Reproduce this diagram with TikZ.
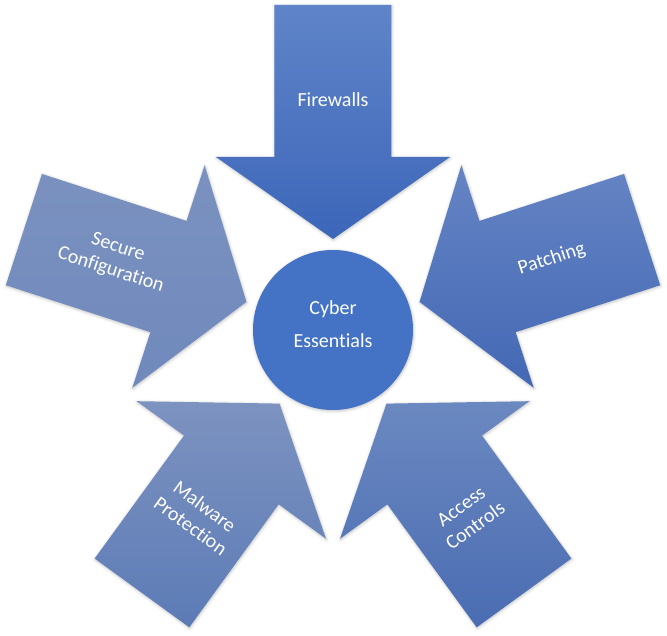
\documentclass[tikz,border=0pt]{standalone}
\usepackage{fontspec}
\setmainfont{Carlito}[Ligatures=NoCommon]
\usetikzlibrary{calc,shadows.blur}
\definecolor{hubcolor}{HTML}{4472C4}
\definecolor{fwtop}{HTML}{5F84C8}
\definecolor{fwbot}{HTML}{3C66B9}
\definecolor{pttop}{HTML}{6584C4}
\definecolor{ptbot}{HTML}{4368B4}
\definecolor{actop}{HTML}{6B88C0}
\definecolor{acbot}{HTML}{4A6CB2}
\definecolor{mwtop}{HTML}{7D93C0}
\definecolor{mwbot}{HTML}{5C7BB6}
\definecolor{sctop}{HTML}{7B92C0}
\definecolor{scbot}{HTML}{7089BC}

\begin{document}
\begin{tikzpicture}[x=1pt, y=1pt,
    pillar/.style={blur shadow={shadow xshift=0.5pt, shadow yshift=-1pt, shadow blur radius=3pt, shadow opacity=25}},
    pillarlabel/.style={text=white, font=\fontsize{20}{24}\selectfont, inner sep=0pt, align=center},
    hub/.style={circle, fill=hubcolor, minimum size=160, inner sep=0pt,
        blur shadow={shadow xshift=0.5pt, shadow yshift=-1pt, shadow blur radius=3pt, shadow opacity=25}},
    hublabel/.style={text=white, font=\fontsize{20}{33}\selectfont, inner sep=0pt, align=center},
]
    \useasboundingbox (-333,-305) rectangle (334,330);

    % Arrows pointing to the centre
    \foreach \ang/\nm/\txt/\rot/\ct/\cb in {
        90/firewalls/Firewalls/0/fwtop/fwbot,
        18/patching/Patching/18/pttop/ptbot,
        -54/access/{Access\\Controls}/36/actop/acbot,
        -126/malware/{Malware\\Protection}/-36/mwtop/mwbot,
        162/secure/{Secure\\Configuration}/-18/sctop/scbot}
    {
        \begin{scope}[rotate=\ang-90]
            \coordinate (\nm-tip) at (0,91);
            \coordinate (\nm-hr) at (117,173);
            \coordinate (\nm-sr) at (58.5,173);
            \coordinate (\nm-tr) at (58.5,325);
            \coordinate (\nm-tl) at (-58.5,325);
            \coordinate (\nm-sl) at (-58.5,173);
            \coordinate (\nm-hl) at (-117,173);
        \end{scope}
        \path[pillar, top color=\ct, bottom color=\cb] (\nm-tip) -- (\nm-hr) -- (\nm-sr) -- (\nm-tr)
            -- (\nm-tl) -- (\nm-sl) -- (\nm-hl) -- cycle;
        \node[pillarlabel, rotate=\rot] (\nm) at (\ang:230) {\txt};
    }

    % Centre
    \node[hub] (core) at (0,0) {};
    \node[hublabel] (corelabel) at ([yshift=6]core.center) {Cyber\\Essentials};
\end{tikzpicture}
\end{document}
